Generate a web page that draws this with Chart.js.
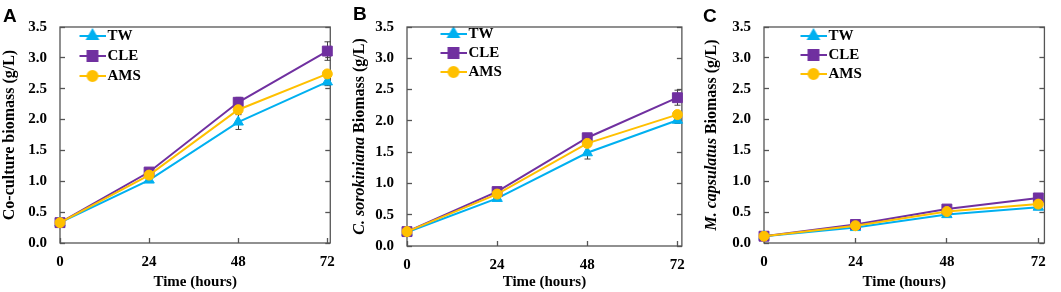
<!DOCTYPE html>
<html>
<head>
<meta charset="utf-8">
<script src="https://cdn.jsdelivr.net/npm/chart.js@4.4.0/dist/chart.umd.min.js"></script>
<style>
    html, body { margin: 0; padding: 0; background: #fff; }
    #painel { position: relative; width: 1061px; height: 292px; overflow: hidden; }
    #painel canvas { position: absolute; top: 0; }
</style>
</head>
<body>
<div id="painel">
    <canvas id="graficoA" width="350" height="292" style="left:0px"></canvas>
    <canvas id="graficoB" width="350" height="292" style="left:350px"></canvas>
    <canvas id="graficoC" width="361" height="292" style="left:700px"></canvas>
</div>
<script>
const tempos = [0, 24, 48, 72]
const ticksX = [0, 24, 48, 72]
const ticksY = [0, 0.5, 1.0, 1.5, 2.0, 2.5, 3.0, 3.5]
const tratamentos = ['TW', 'CLE', 'AMS']

// A - co-cultura
const coculturaTW = [0.33, 1.02, 1.96, 2.61]
const coculturaCLE = [0.33, 1.15, 2.28, 3.11]
const coculturaAMS = [0.33, 1.10, 2.16, 2.74]
const coculturaErroTW = [0.02, 0.04, 0.12, 0.06]
const coculturaErroCLE = [0.02, 0.04, 0.08, 0.15]
const coculturaErroAMS = [0.02, 0.03, 0.05, 0.05]

// B - C. sorokiniana
const sorokinianaTW = [0.22, 0.76, 1.49, 2.01]
const sorokinianaCLE = [0.23, 0.87, 1.73, 2.37]
const sorokinianaAMS = [0.23, 0.83, 1.64, 2.10]
const sorokinianaErroTW = [0.01, 0.03, 0.10, 0.05]
const sorokinianaErroCLE = [0.01, 0.03, 0.05, 0.12]
const sorokinianaErroAMS = [0.01, 0.03, 0.04, 0.04]

// C - M. capsulatus
const capsulatusTW = [0.11, 0.25, 0.46, 0.58]
const capsulatusCLE = [0.11, 0.30, 0.55, 0.73]
const capsulatusAMS = [0.11, 0.28, 0.51, 0.63]
const capsulatusErroTW = [0.01, 0.02, 0.03, 0.04]
const capsulatusErroCLE = [0.01, 0.02, 0.03, 0.04]
const capsulatusErroAMS = [0.01, 0.02, 0.03, 0.03]

const tituloEixoX = 'Time (hours)'
const tituloA = [{ texto: 'Co-culture biomass (g/L)', italico: false }]
const tituloB = [{ texto: 'C. sorokiniana', italico: true }, { texto: ' Biomass (g/L)', italico: false }]
const tituloC = [{ texto: 'M. capsulatus', italico: true }, { texto: ' Biomass (g/L)', italico: false }]

const estilos = [
    { cor: '#00B0F0', ponto: 'triangle', raio: 6, ordem: 2 },
    { cor: '#7030A0', ponto: 'rect', raio: 7, ordem: 1 },
    { cor: '#FFC000', ponto: 'circle', raio: 5, ordem: 0 }
]
const corEixo = '#555555'
const fonteSerif = '"Liberation Serif", "Times New Roman", serif'

const chartAreaBorder = {
    id: 'chartAreaBorder',
    beforeDatasetsDraw(chart, args, options) {
        const { ctx, chartArea: { left, top, width, height } } = chart
        ctx.save()
        ctx.strokeStyle = options.borderColor
        ctx.lineWidth = options.borderWidth
        ctx.strokeRect(left, top, width, height)
        ctx.restore()
    }
}

const barrasDeErro = {
    id: 'barrasDeErro',
    beforeDatasetsDraw(chart) {
        const { ctx, scales: { x, y } } = chart
        ctx.save()
        ctx.strokeStyle = '#404040'
        ctx.lineWidth = 1
        chart.data.datasets.forEach(ds => {
            ds.erros.forEach((e, j) => {
                const px = Math.round(x.getPixelForValue(ds.data[j].x)) + 0.5
                const y1 = y.getPixelForValue(ds.data[j].y + e)
                const y2 = y.getPixelForValue(ds.data[j].y - e)
                ctx.beginPath()
                ctx.moveTo(px, y1); ctx.lineTo(px, y2)
                ctx.moveTo(px - 3, y1); ctx.lineTo(px + 3, y1)
                ctx.moveTo(px - 3, y2); ctx.lineTo(px + 3, y2)
                ctx.stroke()
            })
        })
        ctx.restore()
    }
}

const tituloEixoY = {
    id: 'tituloEixoY',
    afterDraw(chart, args, opts) {
        const { ctx, chartArea } = chart
        const fontes = opts.partes.map(p => `${p.italico ? 'italic ' : ''}bold ${opts.tamanho}px ${fonteSerif}`)
        ctx.save()
        const larguras = opts.partes.map((p, i) => { ctx.font = fontes[i]; return ctx.measureText(p.texto).width })
        const total = larguras.reduce((a, b) => a + b, 0)
        ctx.translate(opts.x, (chartArea.top + chartArea.bottom) / 2)
        ctx.rotate(-Math.PI / 2)
        ctx.textBaseline = 'middle'
        ctx.textAlign = 'left'
        ctx.fillStyle = '#000'
        let cx = -total / 2
        opts.partes.forEach((p, i) => {
            ctx.font = fontes[i]
            ctx.fillText(p.texto, cx, 0)
            cx += larguras[i]
        })
        ctx.restore()
    }
}

// a legenda em 'chartArea' fica com top = 0, reposiciona dentro da area do grafico
const deslocarLegenda = {
    id: 'deslocarLegenda',
    afterLayout(chart, args, opts) {
        const leg = chart.legend
        if (leg) {
            const h = leg.bottom - leg.top
            leg.top = chart.chartArea.top + opts.dy
            leg.bottom = leg.top + h
        }
    }
}

function criarIconeLegenda(estilo, extra) {
    const c = document.createElement('canvas')
    c.width = 26 + extra
    c.height = 16
    const ctx = c.getContext('2d')
    ctx.strokeStyle = estilo.cor
    ctx.fillStyle = estilo.cor
    ctx.lineWidth = 2
    ctx.beginPath()
    ctx.moveTo(extra, 8)
    ctx.lineTo(extra + 26, 8)
    ctx.stroke()
    Chart.helpers.drawPoint(ctx, { pointStyle: estilo.ponto, radius: estilo.raio, borderWidth: 1, rotation: 0 }, extra + 13, 8)
    return c
}

function criarGrafico(id, letra, partesTitulo, series, erros, g) {
    const padLeg = g.padLegenda
    const extra = Math.round(g.legendaX - padLeg + 5.5)
    const icones = estilos.map(e => criarIconeLegenda(e, extra))

    let datasets = []
    for (let i = 0; i < tratamentos.length; i++) {
        datasets.push({
            label: tratamentos[i],
            data: tempos.map((t, j) => ({ x: t, y: series[i][j] })),
            erros: erros[i],
            borderColor: estilos[i].cor,
            backgroundColor: estilos[i].cor,
            borderWidth: 2,
            pointStyle: estilos[i].ponto,
            pointRadius: estilos[i].raio,
            pointBorderWidth: 1,
            order: estilos[i].ordem,
            clip: false,
            tension: 0
        })
    }

    const eixoTicks = axis => { axis.ticks = ticksY.map(v => ({ value: v })) }
    const fonteTick = { family: fonteSerif, size: 15, weight: 'bold' }
    const grade = { drawOnChartArea: false, tickLength: -5, tickColor: corEixo, tickWidth: 1.3 }

    return new Chart(document.getElementById(id), {
        type: 'line',
        data: { datasets: datasets },
        options: {
            responsive: false,
            animation: false,
            events: [],
            layout: {
                padding: { left: 3, right: g.padDireita, top: 0, bottom: 0 }
            },
            plugins: {
                title: {
                    display: true,
                    text: letra,
                    align: 'start',
                    color: '#000',
                    font: { family: '"Liberation Sans", Arial, sans-serif', size: 19, weight: 'bold', lineHeight: 1 },
                    padding: { top: 4, bottom: g.topo - 23 }
                },
                legend: {
                    position: 'chartArea',
                    align: 'start',
                    labels: {
                        usePointStyle: true,
                        pointStyleWidth: 15 + extra,
                        padding: padLeg,
                        color: '#000',
                        font: { family: fonteSerif, size: 15, weight: 'bold' },
                        generateLabels: chart => chart.data.datasets.map((ds, i) => ({
                            text: ds.label,
                            pointStyle: icones[i],
                            fillStyle: ds.backgroundColor,
                            strokeStyle: ds.borderColor,
                            lineWidth: 0,
                            hidden: false,
                            datasetIndex: i,
                            fontColor: '#000'
                        }))
                    }
                },
                tooltip: { enabled: false },
                chartAreaBorder: { borderColor: corEixo, borderWidth: 1.3 },
                tituloEixoY: { partes: partesTitulo, tamanho: 16, x: g.tituloX },
                deslocarLegenda: { dy: 33 - (g.topo + padLeg + 7.5) }
            },
            scales: {
                x: {
                    type: 'linear',
                    min: 0,
                    max: g.xMax,
                    afterBuildTicks: axis => { axis.ticks = ticksX.map(v => ({ value: v })) },
                    afterFit: axis => { axis.height = 292 - g.base },
                    ticks: { padding: 15, color: '#000', font: fonteTick, maxRotation: 0 },
                    grid: grade,
                    border: { display: false },
                    title: {
                        display: true,
                        text: tituloEixoX,
                        color: '#000',
                        font: { family: fonteSerif, size: 15, weight: 'bold' },
                        padding: { top: 0, bottom: 1 }
                    }
                },
                y: {
                    type: 'linear',
                    position: 'left',
                    min: 0,
                    max: 3.5,
                    afterBuildTicks: eixoTicks,
                    afterFit: axis => { axis.width = g.esquerda - 3 },
                    ticks: { padding: 18, color: '#000', font: fonteTick, callback: v => v.toFixed(1) },
                    grid: grade,
                    border: { display: false }
                },
                y2: {
                    type: 'linear',
                    position: 'right',
                    min: 0,
                    max: 3.5,
                    afterBuildTicks: eixoTicks,
                    afterFit: axis => { axis.width = 0 },
                    ticks: { display: false },
                    grid: grade,
                    border: { display: false }
                }
            }
        },
        plugins: [chartAreaBorder, barrasDeErro, tituloEixoY, deslocarLegenda]
    })
}

criarGrafico('graficoA', 'A', tituloA,
    [coculturaTW, coculturaCLE, coculturaAMS],
    [coculturaErroTW, coculturaErroCLE, coculturaErroAMS],
    { esquerda: 60, padDireita: 18, topo: 24, base: 243, xMax: 72.8, tituloX: 10, legendaX: 19, padLegenda: 5 })

criarGrafico('graficoB', 'B', tituloB,
    [sorokinianaTW, sorokinianaCLE, sorokinianaAMS],
    [sorokinianaErroTW, sorokinianaErroCLE, sorokinianaErroAMS],
    { esquerda: 57, padDireita: 7, topo: 26, base: 246, xMax: 73.2, tituloX: 10, legendaX: 33, padLegenda: 4 })

criarGrafico('graficoC', 'C', tituloC,
    [capsulatusTW, capsulatusCLE, capsulatusAMS],
    [capsulatusErroTW, capsulatusErroCLE, capsulatusErroAMS],
    { esquerda: 64, padDireita: 4, topo: 24, base: 243, xMax: 73.6, tituloX: 12, legendaX: 36, padLegenda: 4 })
</script>
</body>
</html>
